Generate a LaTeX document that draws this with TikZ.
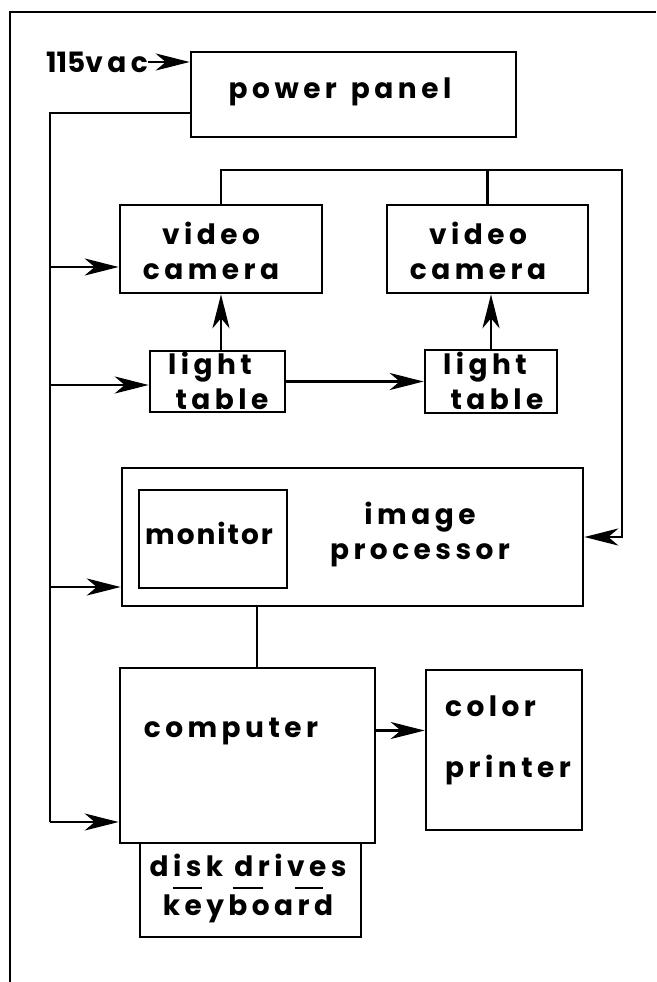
\documentclass[tikz,border=0pt]{standalone}
\usepackage{fontspec}
\setmainfont{Poppins}[LetterSpace=16]
\usetikzlibrary{arrows.meta, calc, positioning}

\begin{document}
\begin{tikzpicture}[x=1pt, y=-1pt, >={Stealth[length=34pt, width=17pt, inset=10pt]},
  box/.style={draw, line width=2.6pt, inner sep=0pt},
  txt/.style={font=\fontsize{28}{35}\selectfont\bfseries, align=center, inner sep=0pt},
  wire/.style={line width=2.4pt}]
\useasboundingbox (0,0) rectangle (656,982);
% frame
\draw[wire] (10,982) -- (10,12) -- (656,12);
% power panel and supply
\node[box, minimum width=325pt, minimum height=85pt] (panel) at (353.5,94.5) {};
\node[txt] (paneltxt) at (340,92) {power\hspace{0.5em}panel};
\node[txt, anchor=east] (vac) at (148,62) {{\addfontfeature{LetterSpace=0}115}vac};
\draw[wire, ->] (vac.east) -- (vac.east -| panel.west);
% cameras and light tables
\node[box, minimum width=202pt, minimum height=88pt] (cam1) at (221,249) {};
\node[txt] (cam1txt) at (211,251) {video\\camera};
\node[box, minimum width=201pt, minimum height=88pt] (cam2) at (487.5,249) {};
\node[txt] (cam2txt) at (478,251) {video\\camera};
\node[box, minimum width=135pt, minimum height=61pt] (lt1) at (217.5,381.5) {};
\node[txt] (lt1txt) at (216,381) {light\hspace*{12pt}\\\hspace*{12pt}table};
\node[box, minimum width=132pt, minimum height=63pt] (lt2) at (491,381.5) {};
\node[txt] (lt2txt) at (491,381) {light\hspace*{12pt}\\\hspace*{12pt}table};
% image processor
\node[box, minimum width=461pt, minimum height=138pt] (proc) at (352.5,537) {};
\node[box, minimum width=148pt, minimum height=98pt] (mon) at (213,539) {};
\node[txt] (montxt) at (209,533) {\addfontfeature{LetterSpace=7}monitor};
\node[txt] (proctxt) at (420,535) {image\\processor};
% computer and peripherals
\node[box, minimum width=255pt, minimum height=175pt] (comp) at (247.5,755.5) {};
\node[txt] (comptxt) at (231,731) {computer};
\node[box, minimum width=156pt, minimum height=160pt] (prt) at (504,750) {};
\node[txt, anchor=west, align=left] (prttxt) at (445,740) {color\\[26pt]printer};
\node[box, minimum width=221pt, minimum height=94pt] (disk) at (250.5,890) {};
\node[txt] (disktxt) at (248,888) {disk\hspace{0.4em}drives\\[4pt]keyboard};
\foreach \a/\b in {173/202, 233/263, 295/323}
  \draw[wire] (\a,888) -- (\b,888);
% power bus
\coordinate (busTop) at (50,113);
\coordinate (tapA) at (50,267);
\coordinate (tapB) at (50,385);
\coordinate (tapC) at (50,587);
\coordinate (tapD) at (50,822);
\draw[wire] (panel.west |- busTop) -- (busTop) -- (tapD);
\draw[wire, ->] (tapA) -- (tapA -| cam1.west);
\draw[wire, ->] (tapB) -- (tapB -| lt1.west);
\draw[wire, ->] (tapC) -- (tapC -| proc.west);
\draw[wire, ->] (tapD) -- (tapD -| comp.west);
% signal paths
\draw[wire, ->] (cam1.south |- lt1.north) -- (cam1.south);
\draw[wire, ->] (lt2.north) -- (lt2.north |- cam2.south);
\draw[wire, ->] (lt1.east) -- (lt1.east -| lt2.west);
\coordinate (fbTop) at (622,170);
\draw[wire, ->] (cam1.north) |- (fbTop) |- (proc.east);
\draw[wire] (cam2.north) -- (cam2.north |- fbTop);
\draw[wire] (proc.south -| 257,0) -- (comp.north -| 257,0);
\coordinate (cpOut) at ($(comp.east)+(0,-25)$);
\draw[wire, ->] (cpOut) -- (cpOut -| prt.west);
\end{tikzpicture}
\end{document}
